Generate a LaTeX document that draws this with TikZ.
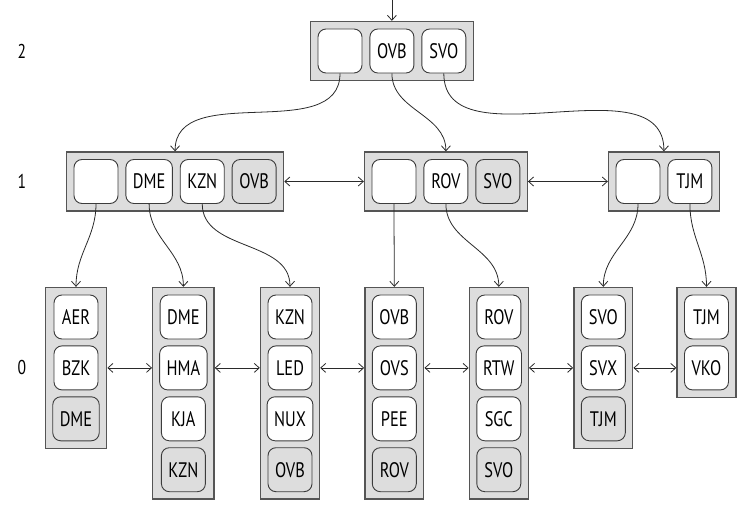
\documentclass[tikz,border=0pt]{standalone}
\usepackage{fontspec}
\setmainfont[FakeStretch=0.78]{PT Sans}
\usetikzlibrary{fit,positioning,arrows.meta,backgrounds}
\definecolor{boxfill}{HTML}{DDDDDD}
\definecolor{boxline}{HTML}{555555}
\definecolor{cellline}{HTML}{3C3C3C}
\definecolor{conn}{HTML}{2A2A2A}
\begin{document}
\begin{tikzpicture}[x=1pt,y=-1pt,
  font=\fontsize{21}{25}\selectfont,
  cell/.style={draw=cellline, line width=0.9pt, fill=white, rounded corners=8pt,
    minimum width=44pt, minimum height=44pt, inner xsep=7pt, inner ysep=0pt},
  gcell/.style={cell, fill=boxfill},
  box/.style={draw=boxline, line width=1.4pt, fill=boxfill, inner sep=7pt},
  conn/.style={draw=conn, line width=0.8pt, -{Straight Barb[length=5pt,width=9pt]}},
  dconn/.style={draw=conn, line width=0.8pt, {Straight Barb[length=5pt,width=9pt]}-{Straight Barb[length=5pt,width=9pt]}},
  lvl/.style={font=\fontsize{20}{24}\selectfont}
]
\useasboundingbox (0,0) rectangle (753,513);

% level labels
\node[lvl] (lv2) at (22,51) {2};
\node[lvl] (lv1) at (22,181.5) {1};
\node[lvl] (lv0) at (22,367) {0};

% level 2
\node[cell] (t0) at (340,51) {};
\node[cell, right=7pt of t0] (t1) {OVB};
\node[cell, right=7pt of t1] (t2) {SVO};

% level 1
\node[cell] (a0) at (96,181.5) {};
\node[cell, right=7pt of a0] (a1) {DME};
\node[cell, right=7pt of a1] (a2) {KZN};
\node[gcell, right=7pt of a2] (a3) {OVB};

\node[cell] (b0) at (394,181.5) {};
\node[cell, right=7pt of b0] (b1) {ROV};
\node[gcell, right=7pt of b1] (b2) {SVO};

\node[cell] (c0) at (638,181.5) {};
\node[cell, right=7pt of c0] (c1) {TJM};

% level 0
\node[cell] (p1) at (76,317) {AER};
\node[cell, below=6pt of p1] (p2) {BZK};
\node[gcell, below=6pt of p2] (p3) {DME};

\node[cell] (q1) at (183.4,317) {DME};
\node[cell, below=6pt of q1] (q2) {HMA};
\node[cell, below=6pt of q2] (q3) {KJA};
\node[gcell, below=6pt of q3] (q4) {KZN};

\node[cell] (r1) at (290,317) {KZN};
\node[cell, below=6pt of r1] (r2) {LED};
\node[cell, below=6pt of r2] (r3) {NUX};
\node[gcell, below=6pt of r3] (r4) {OVB};

\node[cell] (s1) at (394.3,317) {OVB};
\node[cell, below=6pt of s1] (s2) {OVS};
\node[cell, below=6pt of s2] (s3) {PEE};
\node[gcell, below=6pt of s3] (s4) {ROV};

\node[cell] (u1) at (498.8,317) {ROV};
\node[cell, below=6pt of u1] (u2) {RTW};
\node[cell, below=6pt of u2] (u3) {SGC};
\node[gcell, below=6pt of u3] (u4) {SVO};

\node[cell] (v1) at (603.3,317) {SVO};
\node[cell, below=6pt of v1] (v2) {SVX};
\node[gcell, below=6pt of v2] (v3) {TJM};

\node[cell] (w1) at (706.5,317) {TJM};
\node[cell, below=6pt of w1] (w2) {VKO};

\begin{scope}[on background layer]
\node[box, fit=(t0)(t2)] (T) {};
\node[box, fit=(a0)(a3)] (A) {};
\node[box, fit=(b0)(b2)] (B) {};
\node[box, fit=(c0)(c1)] (C) {};
\node[box, fit=(p1)(p3)] (P) {};
\node[box, fit=(q1)(q4)] (Q) {};
\node[box, fit=(r1)(r4)] (R) {};
\node[box, fit=(s1)(s4)] (S) {};
\node[box, fit=(u1)(u4)] (U) {};
\node[box, fit=(v1)(v3)] (V) {};
\node[box, fit=(w1)(w2)] (W) {};
\end{scope}

% incoming arrow
\coordinate (topin) at ([yshift=23pt]T.north);
\draw[conn] (topin) -- (T.north);

% level 2 -> level 1
\draw[conn] (t0.south) to[out=270,in=90] (A.north);
\draw[conn] (t1.south) to[out=270,in=90] (B.north);
\draw[conn] (t2.south) to[out=270,in=90] (C.north);

% level 1 -> level 0
\draw[conn] (a0.south) to[out=270,in=90] (P.north);
\draw[conn] (a1.south) to[out=270,in=90] (Q.north);
\draw[conn] (a2.south) to[out=270,in=90] (R.north);
\draw[conn] (b0.south) to[out=270,in=90] (S.north);
\draw[conn] (b1.south) to[out=270,in=90] (U.north);
\draw[conn] (c0.south) to[out=270,in=90] (V.north);
\draw[conn] (c1.south) to[out=270,in=90] (W.north);

% sibling links
\draw[dconn] (A.east) -- (B.west);
\draw[dconn] (B.east) -- (C.west);
\draw[dconn] (P.east |- p2) -- (Q.west |- q2);
\draw[dconn] (Q.east |- q2) -- (R.west |- r2);
\draw[dconn] (R.east |- r2) -- (S.west |- s2);
\draw[dconn] (S.east |- s2) -- (U.west |- u2);
\draw[dconn] (U.east |- u2) -- (V.west |- v2);
\draw[dconn] (V.east |- v2) -- (W.west |- w2);
\end{tikzpicture}
\end{document}
